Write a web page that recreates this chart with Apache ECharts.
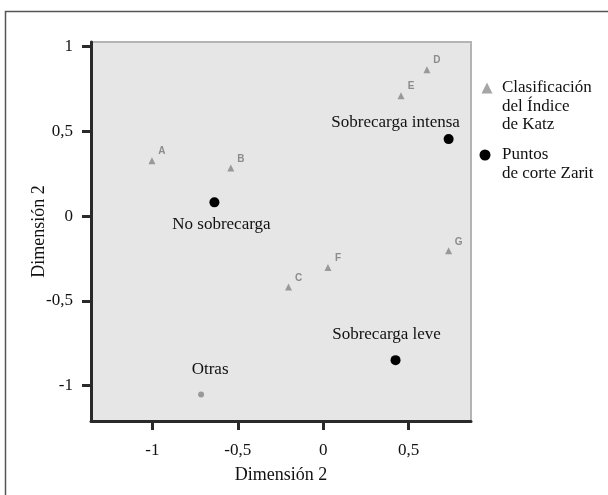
<!DOCTYPE html>
<html><head><meta charset="utf-8">
<script src="https://cdn.jsdelivr.net/npm/echarts@6/dist/echarts.min.js"></script>
<style>html,body{margin:0;padding:0;background:#fff}#c{width:608px;height:495px}</style>
</head><body><div id="c"></div>
<script>
// Katz classification points
const katzNames = ['A','B','C','D','E','F','G','Otras'];
const katzX = [-1.003,-0.541,-0.203,0.608,0.456,0.028,0.735,-0.715];
const katzY = [0.327,0.283,-0.419,0.864,0.710,-0.304,-0.205,-1.052];
// Zarit cut-off points
const zaritNames = ['No sobrecarga','Sobrecarga intensa','Sobrecarga leve'];
const zaritX = [-0.637,0.735,0.424];
const zaritY = [0.081,0.454,-0.850];
// axis ticks
const xTicks = [-1,-0.5,0,0.5];
const yTicks = [-1,-0.5,0,0.5,1];
const seriesNames = ['Clasificación del Índice de Katz','Puntos de corte Zarit'];
const legendLines = [['Clasificación','del Índice','de Katz'],['Puntos','de corte Zarit']];

const SERIF = '"Liberation Serif","DejaVu Serif",serif';
const fmt = v => String(v).replace('.', ',');
// first line of a multi-line legend text aligned with the icon
const legendFmt = n => {
  const lines = legendLines[seriesNames.indexOf(n)];
  return new Array(lines.length - 1).fill('').concat(lines).join('\n');
};

const zaritOffsets = {'No sobrecarga':[7,22],'Sobrecarga intensa':[-53,-17],'Sobrecarga leve':[-9,-26]};

const katzData = katzNames.map((n,i)=>{
  const d = {name:n, value:[katzX[i],katzY[i]]};
  if (n === 'Otras') {
    d.symbol = 'circle'; d.symbolSize = 6;
    d.label = {position:'inside', offset:[9,-25], fontFamily:SERIF, fontSize:17, fontWeight:'normal', color:'#111'};
  }
  return d;
});
const zaritData = zaritNames.map((n,i)=>({
  name:n, value:[zaritX[i],zaritY[i]],
  label:{offset:zaritOffsets[n]}
}));

const chart = echarts.init(document.getElementById('c'), null, {renderer:'canvas'});
chart.setOption({
  animation:false,
  backgroundColor:'#fff',
  graphic:[{type:'rect', shape:{x:5.5,y:11.5,width:700,height:600}, style:{fill:'none', stroke:'#555', lineWidth:1.5}, silent:true}],
  grid:{left:91, right:137, top:42, bottom:74, show:true, backgroundColor:'#e6e6e6', borderColor:'#b4b4b4', borderWidth:2},
  xAxis:{
    type:'value', min:-1.36, max:0.866,
    name:'Dimensión 2', nameLocation:'middle', nameGap:45, nameMoveOverlap:false,
    nameTextStyle:{fontFamily:SERIF, fontSize:18, color:'#111'},
    axisLine:{onZero:false, lineStyle:{color:'#2a2a2a', width:3}},
    axisTick:{customValues:xTicks, length:9, lineStyle:{color:'#2a2a2a', width:3}},
    axisLabel:{customValues:xTicks, formatter:fmt, margin:21, fontFamily:SERIF, fontSize:17, color:'#111'},
    splitLine:{show:false}
  },
  yAxis:{
    type:'value', min:-1.209, max:1.027,
    name:'Dimensión 2', nameLocation:'middle', nameGap:43, nameMoveOverlap:false,
    nameTextStyle:{fontFamily:SERIF, fontSize:18, color:'#111'},
    axisLine:{onZero:false, lineStyle:{color:'#2a2a2a', width:3}},
    axisTick:{customValues:yTicks, length:9, lineStyle:{color:'#2a2a2a', width:3}},
    axisLabel:{customValues:yTicks, formatter:fmt, margin:18, fontFamily:SERIF, fontSize:17, color:'#111'},
    splitLine:{show:false}
  },
  legend:[
    {show:true, left:481.5, top:41.75, padding:0, itemWidth:11, itemHeight:11, orient:'vertical',
     data:[{name:seriesNames[0], icon:'triangle', itemStyle:{color:'#a6a6a6', opacity:1}}],
     formatter:legendFmt,
     textStyle:{fontFamily:SERIF, fontSize:17, color:'#111', lineHeight:18.5, padding:[0,0,0,4.5]}},
    {show:true, left:479.5, top:127.25, padding:0, itemWidth:11, itemHeight:11, orient:'vertical',
     data:[{name:seriesNames[1], icon:'circle', itemStyle:{color:'#000', opacity:1}}],
     formatter:legendFmt,
     textStyle:{fontFamily:SERIF, fontSize:17, color:'#111', lineHeight:18.5, padding:[0,0,0,6.5]}}
  ],
  series:[
    {name:seriesNames[0], type:'scatter', symbol:'triangle', symbolSize:7,
     itemStyle:{color:'#999', opacity:1},
     label:{show:true, formatter:'{b}', position:'inside', offset:[10,-9], fontFamily:'Liberation Sans, Arial, sans-serif', fontWeight:'bold', fontSize:10, color:'#8c8c8c'},
     data:katzData},
    {name:seriesNames[1], type:'scatter', symbol:'circle', symbolSize:10,
     itemStyle:{color:'#000', opacity:1},
     label:{show:true, formatter:'{b}', position:'inside', fontFamily:SERIF, fontSize:17, color:'#111'},
     data:zaritData}
  ]
});
</script></body></html>
